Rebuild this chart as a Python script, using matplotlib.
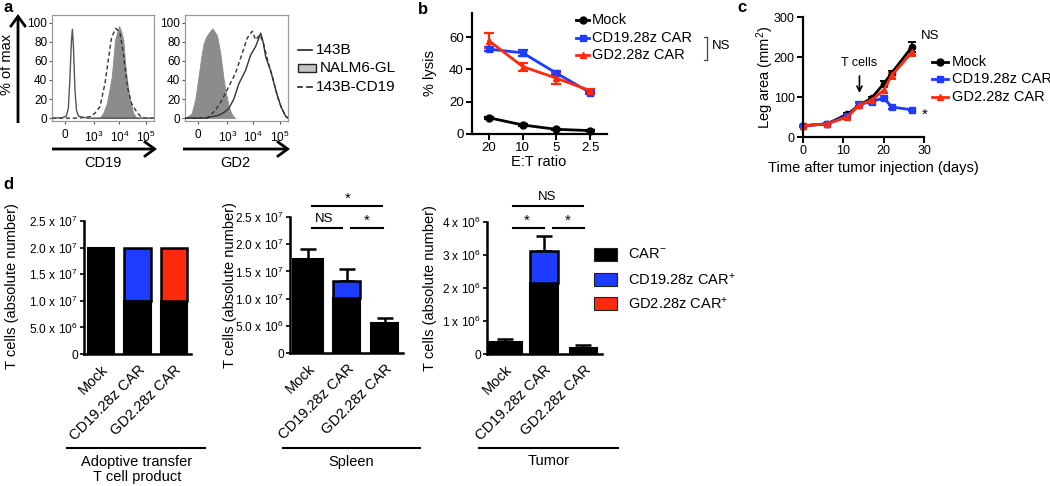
import matplotlib
matplotlib.use("Agg")
import matplotlib.pyplot as plt
from matplotlib.lines import Line2D
from matplotlib.patches import Rectangle, FancyArrowPatch
import numpy as np

plt.rcParams['font.family'] = ['Liberation Sans', 'DejaVu Sans']
plt.rcParams['mathtext.fontset'] = 'custom'
plt.rcParams['mathtext.rm'] = 'Liberation Sans'
plt.rcParams['mathtext.it'] = 'Liberation Sans:italic'
plt.rcParams['mathtext.bf'] = 'Liberation Sans:bold'

# ---------------- data ----------------
# panel a: flow histograms (x in relative display units of the biexponential axis)
hist_xticks = [0.125, 0.41, 0.66, 0.92]
hist_xticklabels = ['0', '10$^3$', '10$^4$', '10$^5$']
hist_yticks = [0, 20, 40, 60, 80, 100]

cd19_143b_x = [0.0, 0.10, 0.14, 0.16, 0.175, 0.19, 0.20, 0.21, 0.225, 0.24, 0.26, 0.30, 0.35, 1.0]
cd19_143b_y = [0, 0.5, 2, 10, 40, 80, 93, 75, 30, 8, 2, 1, 0, 0]
cd19_nalm_x = [0.40, 0.47, 0.50, 0.536, 0.56, 0.585, 0.60, 0.618, 0.64, 0.657, 0.675, 0.699, 0.715, 0.732, 0.758, 0.797, 0.83, 0.86]
cd19_nalm_y = [0, 0.5, 5, 15, 28, 43, 60, 82, 90, 96.5, 92, 82, 60, 43, 22, 5, 0.5, 0]
cd19_dash_x = [0.0, 0.242, 0.30, 0.373, 0.42, 0.47, 0.519, 0.552, 0.585, 0.627, 0.667, 0.699, 0.739, 0.781, 0.83, 0.879, 0.95, 1.0]
cd19_dash_y = [0, 0, 0.5, 1.5, 5, 12, 36, 61, 85, 94, 89, 68, 33, 15, 6.6, 0.5, 0, 0]

gd2_nalm_x = [0.0, 0.016, 0.065, 0.10, 0.131, 0.155, 0.180, 0.205, 0.229, 0.25, 0.268, 0.29, 0.310, 0.343, 0.376, 0.40, 0.425, 0.45, 0.474, 0.49]
gd2_nalm_y = [0, 1, 5, 20, 43, 62, 78, 85, 89, 92, 94, 90, 87, 68, 40, 25, 12, 5, 1.4, 0]
gd2_143b_x = [0.0, 0.196, 0.26, 0.327, 0.38, 0.425, 0.474, 0.523, 0.588, 0.637, 0.686, 0.735, 0.745, 0.758, 0.784, 0.833, 0.882, 0.931, 0.98, 1.0]
gd2_143b_y = [0, 0, 1.5, 3, 6, 10, 20, 36, 50, 66, 75, 89, 85, 80, 64, 49, 29, 12, 1.4, 0]
gd2_dash_x = [0.0, 0.212, 0.294, 0.359, 0.425, 0.49, 0.556, 0.605, 0.654, 0.686, 0.725, 0.758, 0.801, 0.85, 0.899, 0.948, 0.987, 1.0]
gd2_dash_y = [0, 0, 8, 19, 33, 47, 68, 84, 91, 82, 87, 80, 61, 43, 22, 8, 1.4, 0]

# panel b: lysis
et_labels = ['20', '10', '5', '2.5']
lysis_mock = [10.1, 5.6, 2.9, 2.1]
lysis_mock_err = [0.6, 0.5, 0.4, 0.4]
lysis_cd19 = [52.6, 50.3, 37.7, 25.7]
lysis_cd19_err = [1.2, 2.0, 1.3, 1.0]
lysis_gd2 = [57.8, 41.8, 34.6, 26.9]
lysis_gd2_err = [4.7, 2.5, 3.3, 1.0]

# panel c: leg area
days = [0, 6, 11, 14, 17, 20, 22, 27]
leg_mock = [28, 33, 57, 80, 97, 133, 160, 225]
leg_mock_err = [2, 2, 4, 4, 4, 8, 6, 12]
leg_cd19 = [28, 33, 53, 82, 88, 98, 75, 68]
leg_cd19_err = [2, 2, 4, 5, 5, 5, 4, 3]
leg_gd2 = [28, 33, 50, 80, 92, 117, 154, 212]
leg_gd2_err = [2, 2, 4, 4, 5, 8, 8, 9]

# panel d: T cell numbers
groups = ['Mock', 'CD19.28z CAR', 'GD2.28z CAR']
product_neg = [2.0e7, 1.0e7, 1.0e7]
product_cd19 = [0, 1.0e7, 0]
product_gd2 = [0, 0, 1.0e7]
spleen_neg = [1.72e7, 1.02e7, 5.6e6]
spleen_cd19 = [0, 3.0e6, 0]
spleen_err = [2.0e6, 2.3e6, 0.9e6]
tumor_neg = [3.6e5, 2.15e6, 1.8e5]
tumor_cd19 = [0, 0.97e6, 0]
tumor_err = [0.9e5, 0.45e6, 0.8e5]

spleen_ticks = [0, 5e6, 1e7, 1.5e7, 2e7, 2.5e7]
spleen_ticklabels = ['0', '5.0 x 10$^6$', '1.0 x 10$^7$', '1.5 x 10$^7$', '2.0 x 10$^7$', '2.5 x 10$^7$']
tumor_ticks = [0, 1e6, 2e6, 3e6, 4e6]
tumor_ticklabels = ['0', '1 x 10$^6$', '2 x 10$^6$', '3 x 10$^6$', '4 x 10$^6$']

BLUE = '#1d3cff'
RED = '#ff2a0d'
BLACK = '#000000'

# ---------------- figure ----------------
W, H = 1050, 486
fig = plt.figure(figsize=(W / 100, H / 100), dpi=100)


def fx(px):
    return px / W


def fy(py):
    return 1 - py / H


def add_ax(l, t, r, b):
    return fig.add_axes([l / W, 1 - b / H, (r - l) / W, (b - t) / H])


def fline(x0, y0, x1, y1, **kw):
    kw.setdefault('color', 'black')
    kw.setdefault('lw', 1.2)
    fig.add_artist(Line2D([fx(x0), fx(x1)], [fy(y0), fy(y1)], transform=fig.transFigure, **kw))


def ftext(x, y, s, **kw):
    kw.setdefault('ha', 'center')
    kw.setdefault('va', 'center')
    fig.text(fx(x), fy(y), s, **kw)


def farrow(x0, y0, x1, y1):
    fig.add_artist(FancyArrowPatch((fx(x0), fy(y0)), (fx(x1), fy(y1)), transform=fig.transFigure,
                                   arrowstyle='->,head_length=0.55,head_width=0.4', lw=2.0,
                                   color='black', mutation_scale=14, shrinkA=0, shrinkB=0,
                                   capstyle='butt', joinstyle='miter'))


# panel labels
ftext(8, 8, 'a', fontsize=12, fontweight='bold')
ftext(423, 10, 'b', fontsize=12, fontweight='bold')
ftext(742, 8, 'c', fontsize=12, fontweight='bold')
ftext(8, 184, 'd', fontsize=12, fontweight='bold')

# ---------- panel a ----------
def hist_axes(ax):
    ax.set_xlim(0, 1)
    ax.set_ylim(-3, 108)
    for s in ax.spines.values():
        s.set_color('#9a9a9a')
        s.set_linewidth(0.9)
    ax.set_xticks(hist_xticks)
    ax.set_xticklabels(hist_xticklabels, fontsize=8.5)
    ax.tick_params(axis='x', length=2, width=0.8, color='#555', pad=4)
    ax.set_yticks(hist_yticks)
    ax.tick_params(axis='y', length=2, width=0.8, color='#555', pad=1.5, labelsize=8.5)


axa1 = add_ax(52, 15, 154, 121)
axa1.fill_between(cd19_nalm_x, cd19_nalm_y, color='#8c8c8c', lw=0.6, zorder=1)
axa1.plot(cd19_143b_x, cd19_143b_y, color='#555555', lw=1.0, zorder=3)
axa1.plot(cd19_dash_x, cd19_dash_y, color='#333333', lw=1.0, ls=(0, (3, 2)), zorder=2)
hist_axes(axa1)

axa2 = add_ax(185, 15, 288, 121)
axa2.fill_between(gd2_nalm_x, gd2_nalm_y, color='#8c8c8c', lw=0.6, zorder=1)
axa2.plot(gd2_143b_x, gd2_143b_y, color='#333333', lw=1.0, zorder=3)
axa2.plot(gd2_dash_x, gd2_dash_y, color='#333333', lw=1.0, ls=(0, (3, 2)), zorder=2)
hist_axes(axa2)

# arrows and labels for panel a
farrow(18, 123, 18, 14)
farrow(52, 149, 157, 149)
farrow(183, 149, 290, 149)
ftext(7, 64, '% of max', fontsize=10.5, rotation=90)
ftext(103, 163, 'CD19', fontsize=10.5)
ftext(235, 163, 'GD2', fontsize=10.5)

# legend panel a
fline(298, 50, 312, 50, lw=1.2, color='#222')
fig.add_artist(Rectangle((fx(298), fy(72)), (312 - 298) / W + 0.004, 8 / H, transform=fig.transFigure,
                         facecolor='#c4c4c4', edgecolor='#222', lw=1.0))
fline(298, 87, 302, 87, lw=1.2, color='#222')
fline(307, 87, 312, 87, lw=1.2, color='#222')
ftext(316, 50, '143B', fontsize=11, ha='left')
ftext(320, 68, 'NALM6-GL', fontsize=11, ha='left')
ftext(316, 87, '143B-CD19', fontsize=11, ha='left')

# ---------- panel b ----------
axb = add_ax(472, 13, 607, 134)
xb = np.arange(len(et_labels))
series_b = [(lysis_mock, lysis_mock_err, BLACK, 'o', 'Mock'),
            (lysis_cd19, lysis_cd19_err, BLUE, 's', 'CD19.28z CAR'),
            (lysis_gd2, lysis_gd2_err, RED, '^', 'GD2.28z CAR')]
for vals, err, col, mk, lab in series_b:
    axb.errorbar(xb, vals, yerr=err, color=col, marker=mk, ms=5, lw=2.0, capsize=3.5,
                 elinewidth=1.6, capthick=1.6, clip_on=False)
axb.set_xlim(-0.5, 3.5)
axb.set_ylim(0, 75)
axb.set_yticks([0, 20, 40, 60])
axb.set_xticks(xb)
axb.set_xticklabels(et_labels)
for s in ['top', 'right']:
    axb.spines[s].set_visible(False)
for s in ['left', 'bottom']:
    axb.spines[s].set_linewidth(1.6)
axb.tick_params(length=4, width=1.4, labelsize=9.5, pad=2)
ftext(430, 73, '% lysis', fontsize=10.5, rotation=90)
ftext(539, 162, 'E:T ratio', fontsize=10.5)

# legend b
for i, (vals, err, col, mk, lab) in enumerate(series_b):
    yy = [20, 38, 55][i]
    fig.add_artist(Line2D([fx(576), fx(589)], [fy(yy), fy(yy)], transform=fig.transFigure,
                          color=col, lw=2.0))
    fig.add_artist(Line2D([fx(582.5)], [fy(yy)], transform=fig.transFigure,
                          color=col, marker=mk, ms=5, lw=0))
    ftext(592, yy, lab, fontsize=10.5, ha='left')
# NS bracket
fline(704, 37, 707, 37, lw=0.9, color='#444')
fline(707, 37, 707, 60, lw=0.9, color='#444')
fline(704, 60, 707, 60, lw=0.9, color='#444')
ftext(712, 46, 'NS', fontsize=9.5, ha='left')

# ---------- panel c ----------
axc = add_ax(803, 17, 924, 137)
series_c = [(leg_mock, leg_mock_err, BLACK, 'o', 'Mock'),
            (leg_cd19, leg_cd19_err, BLUE, 's', 'CD19.28z CAR'),
            (leg_gd2, leg_gd2_err, RED, '^', 'GD2.28z CAR')]
for vals, err, col, mk, lab in series_c:
    axc.errorbar(days, vals, yerr=err, color=col, marker=mk, ms=4.5, lw=2.0, capsize=3,
                 elinewidth=1.4, capthick=1.4, clip_on=False)
axc.set_xlim(0, 30)
axc.set_ylim(0, 300)
axc.set_xticks([0, 10, 20, 30])
axc.set_yticks([0, 100, 200, 300])
for s in ['top', 'right']:
    axc.spines[s].set_visible(False)
for s in ['left', 'bottom']:
    axc.spines[s].set_linewidth(1.6)
axc.tick_params(length=4, width=1.4, labelsize=9, pad=2)
axc.annotate('T cells', xy=(14, 110), xytext=(14, 185), ha='center', va='center', fontsize=9,
             arrowprops=dict(arrowstyle='->', lw=1.2, color='black', shrinkA=3, shrinkB=0))
ftext(930, 36, 'NS', fontsize=9.5)
ftext(925, 115, '*', fontsize=11)
ftext(765, 77, 'Leg area (mm$^2$)', fontsize=10.5, rotation=90)
ftext(873, 168, 'Time after tumor injection (days)', fontsize=10.5)
for i, (vals, err, col, mk, lab) in enumerate(series_c):
    yy = [62, 79, 97][i]
    fig.add_artist(Line2D([fx(932), fx(948)], [fy(yy), fy(yy)], transform=fig.transFigure,
                          color=col, lw=2.0))
    fig.add_artist(Line2D([fx(940)], [fy(yy)], transform=fig.transFigure,
                          color=col, marker=mk, ms=5, lw=0))
    ftext(952, yy, lab, fontsize=10.5, ha='left')

# ---------- panel d ----------
def bar_axes(ax, ticks, ticklabels, ymax):
    ax.set_xlim(-0.47, 2.47)
    ax.set_ylim(0, ymax)
    ax.set_yticks(ticks)
    ax.set_yticklabels(ticklabels, fontsize=8.6)
    for s in ['top', 'right']:
        ax.spines[s].set_visible(False)
    for s in ['left', 'bottom']:
        ax.spines[s].set_linewidth(1.8)
    ax.tick_params(axis='y', length=3, width=1.2, pad=1.5)
    ax.set_xticks(range(len(groups)))
    ax.set_xticklabels(groups, rotation=45, ha='right', rotation_mode='anchor', fontsize=10.5)
    ax.tick_params(axis='x', length=0, pad=6)
    ax.set_xticks([1], minor=True)
    ax.tick_params(axis='x', which='minor', length=4, width=1.2)


xd = np.arange(len(groups))

axd1 = add_ax(84, 221, 191, 354)
axd1.bar(xd, product_neg, width=0.72, color=BLACK, edgecolor=BLACK, lw=1.5)
axd1.bar(xd, product_cd19, bottom=product_neg, width=0.72, color=BLUE, edgecolor=BLACK, lw=1.8)
axd1.bar(xd, product_gd2, bottom=product_neg, width=0.72, color=RED, edgecolor=BLACK, lw=1.8)
bar_axes(axd1, spleen_ticks, spleen_ticklabels, 2.5e7)

axd2 = add_ax(290, 217, 403, 353)
spleen_tot = [a + b for a, b in zip(spleen_neg, spleen_cd19)]
axd2.errorbar(xd, spleen_tot, yerr=[[0] * 3, spleen_err], fmt='none', ecolor=BLACK, elinewidth=1.8,
              capsize=6, capthick=1.8, zorder=1)
axd2.bar(xd, spleen_neg, width=[0.78, 0.72, 0.7], color=BLACK, edgecolor=BLACK, lw=1.5, zorder=2)
axd2.bar(xd, spleen_cd19, bottom=spleen_neg, width=[0.78, 0.72, 0.7], color=BLUE, edgecolor=BLACK,
         lw=1.8, zorder=2)
bar_axes(axd2, spleen_ticks, spleen_ticklabels, 2.5e7)

axd3 = add_ax(487, 222, 602, 354)
tumor_tot = [a + b for a, b in zip(tumor_neg, tumor_cd19)]
axd3.errorbar(xd, tumor_tot, yerr=[[0] * 3, tumor_err], fmt='none', ecolor=BLACK, elinewidth=1.8,
              capsize=6, capthick=1.8, zorder=1)
axd3.bar(xd, tumor_neg, width=[0.86, 0.7, 0.7], color=BLACK, edgecolor=BLACK, lw=1.5, zorder=2)
axd3.bar(xd, tumor_cd19, bottom=tumor_neg, width=[0.86, 0.7, 0.7], color=BLUE, edgecolor=BLACK,
         lw=1.8, zorder=2)
bar_axes(axd3, tumor_ticks, tumor_ticklabels, 4e6)
axd3.set_xlim(-0.45, 2.47)

# y labels
ftext(12, 286, 'T cells (absolute number)', fontsize=10.5, rotation=90)
ftext(230, 285, 'T cells (absolute number)', fontsize=10.5, rotation=90)
ftext(430, 288, 'T cells (absolute number)', fontsize=10.5, rotation=90)

# group underlines and labels
fline(67, 448, 205, 448, lw=1.5)
ftext(137, 462, 'Adoptive transfer', fontsize=10.5)
ftext(137, 477, 'T cell product', fontsize=10.5)
fline(283, 448, 420, 448, lw=1.5)
ftext(351, 462, 'Spleen', fontsize=10.5)
fline(479, 448, 618, 448, lw=1.5)
ftext(549, 461, 'Tumor', fontsize=10.5)

# significance lines spleen
fline(312, 206, 382, 206, lw=1.5)
ftext(348, 199, '*', fontsize=11)
fline(312, 228, 342, 228, lw=1.5)
ftext(324, 219, 'NS', fontsize=9.5)
fline(351, 228, 383, 228, lw=1.5)
ftext(367, 221, '*', fontsize=11)
# significance lines tumor
fline(513, 206, 583, 206, lw=1.5)
ftext(547, 197, 'NS', fontsize=9.5)
fline(513, 228, 544, 228, lw=1.5)
ftext(527, 221, '*', fontsize=11)
fline(553, 228, 584, 228, lw=1.5)
ftext(568, 221, '*', fontsize=11)

# legend d
leg_d = [('CAR$^{-}$', BLACK), ('CD19.28z CAR$^{+}$', BLUE), ('GD2.28z CAR$^{+}$', RED)]
for i, (lab, col) in enumerate(leg_d):
    yc = [254, 280, 304][i]
    fig.add_artist(Rectangle((fx(594), fy(yc + 6.5)), 23 / W, 13 / H, transform=fig.transFigure,
                             facecolor=col, edgecolor='#222', lw=0.8))
    ftext(628, yc, lab, fontsize=10.5, ha='left')

fig.savefig('out.png', dpi=100)
